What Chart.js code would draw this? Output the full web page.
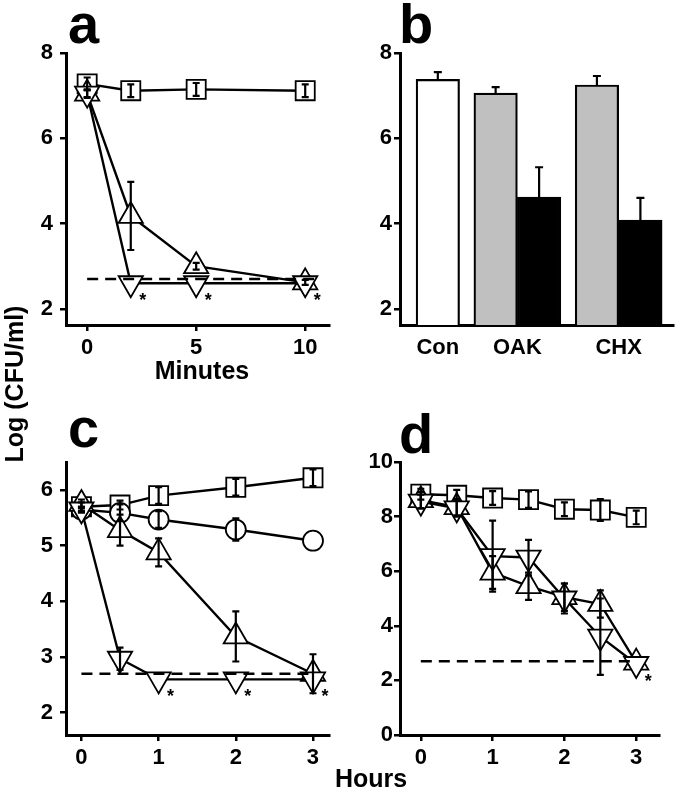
<!DOCTYPE html>
<html>
<head>
<meta charset="utf-8">
<script src="https://cdn.jsdelivr.net/npm/chart.js@4.4.1/dist/chart.umd.min.js"></script>
<style>
    body { margin: 0; background: #fff; width: 675px; height: 795px; position: relative; overflow: hidden;
           font-family: "Liberation Sans", Arial, sans-serif; }
    canvas { position: absolute; }
    .txt { position: absolute; font-weight: bold; color: #000; white-space: nowrap; }
    .letter { font-size: 56px; line-height: 56px; }
    .title { font-size: 25px; line-height: 25px; }
</style>
</head>
<body>
<canvas id="panelA" width="345" height="340" style="left:0;top:33px"></canvas>
<canvas id="panelB" width="335" height="340" style="left:340px;top:33px"></canvas>
<canvas id="panelC" width="345" height="330" style="left:0;top:442px"></canvas>
<canvas id="panelD" width="335" height="330" style="left:340px;top:442px"></canvas>

<div class="txt letter" style="left:68px;top:-4px">a</div>
<div class="txt letter" style="left:399px;top:-4px">b</div>
<div class="txt letter" style="left:68px;top:400px">c</div>
<div class="txt letter" style="left:399px;top:406px">d</div>
<div class="txt title" style="left:202px;top:358px;transform:translateX(-50%)">Minutes</div>
<div class="txt title" style="left:371px;top:766px;transform:translateX(-50%)">Hours</div>
<div class="txt title" style="left:14px;top:384px;transform:translate(-50%,-50%) rotate(-90deg)">Log (CFU/ml)</div>

<script>
// panel a - minutes
const aTimes = [0, 2, 5, 10];
const aCon = [7.28, 7.12, 7.15, 7.12];
const aConErr = [0.15, 0.15, 0.15, 0.15];
const aUp = [7.05, 4.18, 3.0, 2.62];
const aUpErr = [0.1, 0.8, 0.08, 0.06];
const aDown = [7.05, 2.6, 2.6, 2.6];
const aDownErr = [0.08, 0, 0, 0];
const aStars = [false, true, true, true];
const aTicksX = [0, 5, 10];
const aTicksY = [2, 4, 6, 8];

// panel b
const bCategories = ['Con', 'OAK', 'CHX'];
const bFirst = [7.38, 7.06, 7.25];
const bFirstErr = [0.17, 0.14, 0.21];
const bSecond = [null, 4.62, 4.08];
const bSecondErr = [null, 0.7, 0.52];
const bTicksY = [2, 4, 6, 8];

// panel c - hours
const cTimes = [0, 0.5, 1, 2, 3];
const cCon = [5.7, 5.73, 5.9, 6.05, 6.22];
const cConErr = [0.08, 0.08, 0.15, 0.15, 0.15];
const cCircle = [5.65, 5.59, 5.47, 5.29, 5.09];
const cCircleErr = [0.05, 0.15, 0.15, 0.2, 0];
const cUp = [5.75, 5.28, 4.88, 3.37, 2.7];
const cUpErr = [0.08, 0.28, 0.25, 0.45, 0.35];
const cDown = [5.65, 2.97, 2.6, 2.6, 2.6];
const cDownErr = [0.05, 0.2, 0, 0, 0];
const cStars = [false, false, true, true, true];
const cTicksX = [0, 1, 2, 3];
const cTicksY = [2, 3, 4, 5, 6];

// panel d - hours
const dTimes = [0, 0.5, 1, 1.5, 2, 2.5, 3];
const dCon = [8.82, 8.78, 8.68, 8.62, 8.27, 8.24, 7.97];
const dConErr = [0.2, 0.2, 0.25, 0.3, 0.25, 0.4, 0.25];
const dUp = [8.6, 8.35, 5.95, 5.45, 5.05, 4.8, 2.65];
const dUpErr = [0.3, 0.3, 0.6, 0.5, 0.5, 0.5, 0];
const dDown = [8.55, 8.3, 6.55, 6.5, 5.0, 3.6, 2.6];
const dDownErr = [0.25, 0.3, 1.3, 0.65, 0.55, 1.4, 0];
const dStars = [false, false, false, false, false, false, true];
const dTicksX = [0, 1, 2, 3];
const dTicksY = [0, 2, 4, 6, 8, 10];

const detectionLimit = 2.7;

Chart.defaults.font.family = '"Liberation Sans", Arial, sans-serif';
Chart.defaults.font.weight = 'bold';
Chart.defaults.font.size = 22;
Chart.defaults.color = '#000';
Chart.defaults.animation = false;

// error bars drawn on top of each dataset that has an "errors" array
const errorBars = {
    id: 'errorBars',
    afterDatasetsDraw(chart) {
        const ctx = chart.ctx;
        const yScale = chart.scales.y;
        ctx.save();
        ctx.strokeStyle = '#000';
        ctx.lineWidth = 2.2;
        chart.data.datasets.forEach((ds, di) => {
            if (!ds.errors) return;
            const meta = chart.getDatasetMeta(di);
            meta.data.forEach((el, i) => {
                const v = ds.data[i].y;
                const e = ds.errors[i];
                if (v == null || !e) return;
                const x = el.x;
                const yTop = yScale.getPixelForValue(v + e);
                const yBot = ds.upOnly ? yScale.getPixelForValue(v) : yScale.getPixelForValue(v - e);
                const cap = ds.capWidth || 7;
                ctx.beginPath();
                ctx.moveTo(x, yTop); ctx.lineTo(x, yBot);
                ctx.moveTo(x - cap / 2, yTop); ctx.lineTo(x + cap / 2, yTop);
                if (!ds.upOnly) { ctx.moveTo(x - cap / 2, yBot); ctx.lineTo(x + cap / 2, yBot); }
                ctx.stroke();
            });
        });
        ctx.restore();
    }
};

// asterisks next to points flagged in "stars"
const starMarks = {
    id: 'starMarks',
    afterDatasetsDraw(chart) {
        const ctx = chart.ctx;
        ctx.save();
        ctx.fillStyle = '#000';
        ctx.font = 'bold 18px "Liberation Sans", Arial, sans-serif';
        ctx.textAlign = 'center';
        ctx.textBaseline = 'alphabetic';
        chart.data.datasets.forEach((ds, di) => {
            if (!ds.stars) return;
            chart.getDatasetMeta(di).data.forEach((el, i) => {
                if (ds.stars[i]) ctx.fillText('*', el.x + 12, el.y + 23);
            });
        });
        ctx.restore();
    }
};

function toPoints(times, values) {
    return times.map((t, i) => ({ x: t, y: values[i] }));
}

function series(times, values, errors, style, extra) {
    return Object.assign({
        data: toPoints(times, values),
        errors: errors,
        borderColor: '#000',
        borderWidth: 2.4,
        pointStyle: style,
        pointRadius: 14,
        pointBorderWidth: 1.8,
        pointBackgroundColor: '#fff',
        pointBorderColor: '#000',
        tension: 0
    }, extra || {});
}

function limitLine(tEnd) {
    return {
        data: [{ x: 0, y: detectionLimit }, { x: tEnd, y: detectionLimit }],
        borderColor: '#000',
        borderWidth: 2.4,
        borderDash: [11, 7],
        pointRadius: 0,
        order: -1
    };
}

function axisY(min, max, ticks, width, pad) {
    return {
        type: 'linear', min: min, max: max, offset: false,
        afterFit: s => { s.width = width; },
        afterBuildTicks: s => { s.ticks = ticks.map(v => ({ value: v })); },
        grid: { display: true, drawOnChartArea: false, drawTicks: true, tickLength: 6, color: '#000', lineWidth: 2.5, offset: false },
        border: { display: true, color: '#000', width: 3 },
        ticks: { padding: pad }
    };
}

function axisX(min, max, ticks, height) {
    return {
        type: 'linear', min: min, max: max, offset: false,
        afterFit: s => { s.height = height; },
        afterBuildTicks: s => { s.ticks = ticks.map(v => ({ value: v })); },
        grid: { display: true, drawOnChartArea: false, drawTicks: true, tickLength: 6, color: '#000', lineWidth: 2.5, offset: false },
        border: { display: true, color: '#000', width: 3 },
        ticks: { padding: 4, maxRotation: 0 }
    };
}

const baseOptions = (x, y, right) => ({
    responsive: false,
    devicePixelRatio: 1,
    layout: { padding: { top: 20, right: right, left: 0, bottom: 0 } },
    plugins: { legend: { display: false }, tooltip: { enabled: false } },
    scales: { x: x, y: y }
});

// panel a
new Chart(document.getElementById('panelA'), {
    type: 'line',
    data: {
        datasets: [
            series(aTimes, aDown, aDownErr, 'triangle', { pointRotation: 180, stars: aStars }),
            series(aTimes, aUp, aUpErr, 'triangle'),
            series(aTimes, aCon, aConErr, 'rect', { pointRadius: 13.5 }),
            limitLine(10.5)
        ]
    },
    options: baseOptions(axisX(-0.97, 11.1, aTicksX, 48), axisY(1.62, 8, aTicksY, 66, 7), 5),
    plugins: [errorBars, starMarks]
});

// panel b - bars laid out in units of one bar width
const bGap = 0.33;
const bPoints = [];
const bErrors = [];
const bFills = [];
const bCenters = [];
let cursor = 0;
bCategories.forEach((cat, i) => {
    const vals = [[bFirst[i], bFirstErr[i]], [bSecond[i], bSecondErr[i]]].filter(p => p[0] != null);
    const start = cursor;
    vals.forEach((p, j) => {
        bPoints.push({ x: cursor + 0.5, y: p[0] });
        bErrors.push(p[1]);
        bFills.push(vals.length === 1 ? '#ffffff' : (j === 0 ? '#c0c0c0' : '#000000'));
        cursor += 1;
    });
    bCenters.push((start + cursor) / 2);
    cursor += bGap;
});
const bMax = cursor - bGap + 0.25;

const bX = axisX(-0.37, bMax, [], 48);
bX.afterBuildTicks = s => { s.ticks = bCenters.map(v => ({ value: v })); };
bX.grid = { display: true, drawOnChartArea: false, drawTicks: false, color: '#000', lineWidth: 2.5, offset: false };
bX.ticks = { padding: 10, maxRotation: 0, autoSkip: false, callback: (v, i) => bCategories[i] };

new Chart(document.getElementById('panelB'), {
    type: 'bar',
    data: {
        datasets: [{
            data: bPoints,
            errors: bErrors,
            upOnly: true,
            capWidth: 8,
            backgroundColor: bFills,
            borderColor: '#000',
            borderWidth: 2.2,
            borderSkipped: 'start',
            categoryPercentage: 1,
            barPercentage: 1
        }]
    },
    options: baseOptions(bX, axisY(1.62, 8, bTicksY, 60, 2), 2),
    plugins: [errorBars]
});

// panel c
new Chart(document.getElementById('panelC'), {
    type: 'line',
    data: {
        datasets: [
            series(cTimes, cDown, cDownErr, 'triangle', { pointRotation: 180, stars: cStars }),
            series(cTimes, cUp, cUpErr, 'triangle'),
            series(cTimes, cCircle, cCircleErr, 'circle', { pointRadius: 10 }),
            series(cTimes, cCon, cConErr, 'rect', { pointRadius: 13.5 }),
            limitLine(3)
        ]
    },
    options: baseOptions(axisX(-0.2, 3.21, cTicksX, 37), axisY(1.6, 6.5, cTicksY, 66, 7), 5),
    plugins: [errorBars, starMarks]
});

// panel d
new Chart(document.getElementById('panelD'), {
    type: 'line',
    data: {
        datasets: [
            series(dTimes, dDown, dDownErr, 'triangle', { pointRotation: 180, stars: dStars }),
            series(dTimes, dUp, dUpErr, 'triangle'),
            series(dTimes, dCon, dConErr, 'rect', { pointRadius: 13.5 }),
            limitLine(3)
        ]
    },
    options: baseOptions(axisX(-0.29, 3.32, dTicksX, 37), axisY(0, 10, dTicksY, 60, 1), 2),
    plugins: [errorBars, starMarks]
});
</script>
</body>
</html>
